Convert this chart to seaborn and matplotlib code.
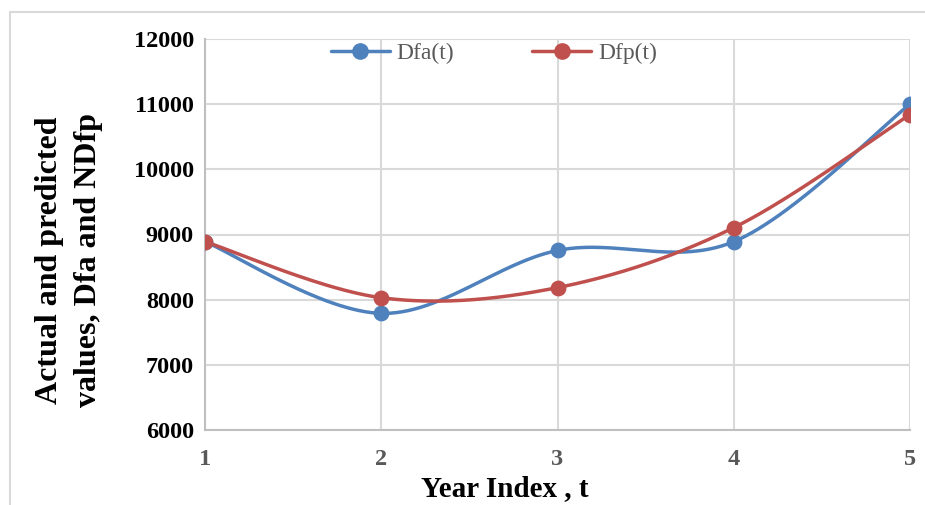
import numpy as np
import pandas as pd
import matplotlib
matplotlib.use("Agg")
import matplotlib.pyplot as plt
from matplotlib.lines import Line2D
import seaborn as sns

# Data
years = [1, 2, 3, 4, 5]
dfa = [8890, 7790, 8755, 8890, 11000]
dfp = [8890, 8030, 8185, 9105, 10840]
series_names = ["Dfa(t)", "Dfp(t)"]
y_ticks = [6000, 7000, 8000, 9000, 10000, 11000, 12000]

BLUE = "#4F81BD"
RED = "#C0504D"
GRID = "#D9D9D9"


def smooth_curve(xs, ys, n=60):
    """Bezier smoothing through every point (control handles at 1/6 of the neighbour chord)."""
    P = np.column_stack([np.asarray(xs, float), np.asarray(ys, float)])
    out = []
    m = len(P)
    t = np.linspace(0, 1, n)[:, None]
    for i in range(m - 1):
        p0 = P[max(i - 1, 0)]
        p1 = P[i]
        p2 = P[i + 1]
        p3 = P[min(i + 2, m - 1)]
        c1 = p1 + (p2 - p0) / 6.0
        c2 = p2 - (p3 - p1) / 6.0
        seg = ((1 - t) ** 3) * p1 + 3 * ((1 - t) ** 2) * t * c1 + 3 * (1 - t) * t ** 2 * c2 + t ** 3 * p2
        out.append(seg if i == 0 else seg[1:])
    seg = np.vstack(out)
    return seg[:, 0], seg[:, 1]


sns.set_theme(style="white")
plt.rcParams["font.family"] = ["Liberation Serif", "DejaVu Serif"]

W, H = 925, 505
fig = plt.figure(figsize=(W / 100, H / 100), dpi=100)
ax = fig.add_axes([205 / W, (H - 430) / H, (910 - 205) / W, (430 - 39) / H])

for name, vals, col in [(series_names[0], dfa, BLUE), (series_names[1], dfp, RED)]:
    sx, sy = smooth_curve(years, vals)
    curve = pd.DataFrame({"t": sx, "v": sy})
    sns.lineplot(data=curve, x="t", y="v", sort=False, color=col, linewidth=2.5,
                 ax=ax, legend=False, zorder=3)
    pts = pd.DataFrame({"t": years, "v": vals})
    sns.scatterplot(data=pts, x="t", y="v", color=col, s=130, edgecolor=col,
                    linewidth=0, ax=ax, legend=False, zorder=4)

ax.set_xlim(1, 5)
ax.set_ylim(6000, 12000)
ax.set_xticks(years)
ax.set_yticks(y_ticks)
ax.set_xticklabels([str(y) for y in years])
ax.set_yticklabels([str(v) for v in y_ticks])

ax.grid(True, color=GRID, linewidth=1.5, zorder=0)
ax.set_axisbelow(True)
for side in ["top", "right"]:
    ax.spines[side].set_visible(False)
ax.spines["left"].set_color("#BFBFBF")
ax.spines["left"].set_linewidth(1.5)
ax.spines["bottom"].set_color("#BFBFBF")
ax.spines["bottom"].set_linewidth(1.5)

ax.tick_params(axis="y", length=0, pad=8, labelsize=17.5, labelcolor="black")
ax.tick_params(axis="x", length=0, pad=14, labelsize=17.5, labelcolor="#595959")
for lab in ax.get_yticklabels() + ax.get_xticklabels():
    lab.set_fontweight("bold")

ax.set_xlabel("")
ax.set_ylabel("")

fig.text(505 / W, 1 - 489 / H, "Year Index , t", ha="center", va="center",
         fontsize=21, fontweight="bold", color="black")
fig.text(69 / W, 1 - 260 / H, "Actual and predicted\nvalues, Dfa and NDfp",
         ha="center", va="center", rotation=90, fontsize=23, fontweight="bold",
         color="black", linespacing=1.45)

handles = [
    Line2D([], [], color=BLUE, linewidth=2.5, marker="o", markersize=11),
    Line2D([], [], color=RED, linewidth=2.5, marker="o", markersize=11),
]
leg = ax.legend(handles, series_names, loc="center", bbox_to_anchor=(0.41, 0.964),
                ncol=2, frameon=False, fontsize=17, handlelength=2.5,
                handletextpad=0.3, columnspacing=3.3)
for txt in leg.get_texts():
    txt.set_color("#595959")

# chart area frame
fig.add_artist(Line2D([10 / W, 10 / W], [0, 1 - 12 / H], transform=fig.transFigure,
                      color=GRID, linewidth=1.5))
fig.add_artist(Line2D([10 / W, 1], [1 - 12 / H, 1 - 12 / H], transform=fig.transFigure,
                      color=GRID, linewidth=1.5))

fig.savefig("out.png", dpi=100, facecolor="white")
